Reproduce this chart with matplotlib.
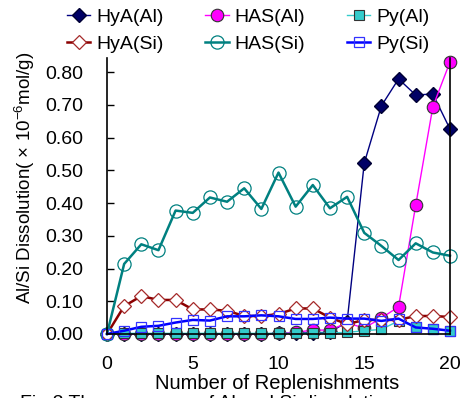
import numpy as np
import matplotlib
matplotlib.use("Agg")
import matplotlib.pyplot as plt

plt.rcParams['font.family'] = ['Liberation Sans', 'DejaVu Sans']
plt.rcParams['mathtext.fontset'] = 'custom'
plt.rcParams['mathtext.rm'] = 'Liberation Sans'
plt.rcParams['mathtext.it'] = 'Liberation Sans:italic'

# number of replenishments
x = np.arange(0, 21)

hya_al = [0.0, 0.0, 0.0, 0.0, 0.0, 0.0, 0.0, 0.0, 0.0, 0.0, 0.002,
          0.003, 0.004, 0.005, 0.037, 0.522, 0.697, 0.779, 0.730, 0.733, 0.626]
has_al = [0.0, 0.0, 0.0, 0.0, 0.0, 0.0, 0.0, 0.0, 0.0, 0.0, 0.002,
          0.005, 0.012, 0.012, 0.034, 0.018, 0.049, 0.083, 0.393, 0.694, 0.831]
py_al = [0.0, 0.002, 0.002, 0.002, 0.002, 0.002, 0.002, 0.002, 0.002, 0.002, 0.002,
         0.002, 0.002, 0.003, 0.005, 0.010, 0.014, 0.040, 0.022, 0.016, 0.010]
hya_si = [0.0, 0.085, 0.116, 0.104, 0.104, 0.075, 0.075, 0.071, 0.055, 0.055, 0.061,
          0.078, 0.078, 0.050, 0.030, 0.043, 0.043, 0.043, 0.055, 0.055, 0.052]
has_si = [0.0, 0.214, 0.274, 0.256, 0.377, 0.370, 0.417, 0.404, 0.445, 0.382, 0.493,
          0.389, 0.455, 0.384, 0.419, 0.309, 0.269, 0.226, 0.277, 0.249, 0.239]
py_si = [0.0, 0.010, 0.022, 0.025, 0.035, 0.043, 0.041, 0.054, 0.054, 0.057, 0.054,
         0.046, 0.046, 0.050, 0.047, 0.047, 0.040, 0.047, 0.020, 0.016, 0.010]

fig = plt.figure(figsize=(4.68, 3.98), dpi=100)
ax = fig.add_axes([107/468, 1 - 334/398, 343/468, 276/398])

h1, = ax.plot(x, hya_al, color='#000080', lw=1.0, marker='D', ms=7,
              mfc='#000066', mec='#000033', label='HyA(Al)', clip_on=False)
h2, = ax.plot(x, has_al, color='#FF00FF', lw=1.0, marker='o', ms=9,
              mfc='#FF00FF', mec='#333333', mew=0.8, label='HAS(Al)', clip_on=False)
h3, = ax.plot(x, py_al, color='#33CCCC', lw=1.0, marker='s', ms=7.5,
              mfc='#33CCCC', mec='#333333', mew=0.8, label='Py(Al)', clip_on=False)
h4, = ax.plot(x, hya_si, color='#8B0000', lw=1.8, marker='D', ms=7,
              mfc='white', mec='#A52A2A', mew=0.9, label='HyA(Si)', clip_on=False)
h5, = ax.plot(x, has_si, color='#008080', lw=1.8, marker='o', ms=9.5,
              mfc='none', mec='#008080', mew=0.9, label='HAS(Si)', clip_on=False)
h6, = ax.plot(x, py_si, color='#0000FF', lw=1.8, marker='s', ms=7,
              mfc='none', mec='#3333FF', mew=0.9, label='Py(Si)', clip_on=False)

ax.set_xlim(0, 20)
ax.set_ylim(0, 0.843)
ax.set_xticks([0, 5, 10, 15, 20])
ax.set_yticks(np.arange(0, 0.81, 0.1))
ax.set_yticklabels(['%.2f' % v for v in np.arange(0, 0.81, 0.1)])
ax.tick_params(axis='y', direction='in', length=5, width=1, labelsize=14, pad=17)
ax.tick_params(axis='x', length=0, labelsize=14, pad=16)
ax.spines['top'].set_visible(False)
for s in ['left', 'bottom', 'right']:
    ax.spines[s].set_linewidth(1.2)

ax.set_xlabel('Number of Replenishments', fontsize=14.5)
ax.xaxis.set_label_coords(0.496, -0.145)
ax.set_ylabel(r'Al/Si Dissolution( $\times$ 10$^{-6}$mol/g)', fontsize=13.5)
ax.yaxis.set_label_coords(-0.205, 0.567)

fig.legend([h1, h4, h2, h5, h3, h6],
           ['HyA(Al)', 'HyA(Si)', 'HAS(Al)', 'HAS(Si)', 'Py(Al)', 'Py(Si)'],
           ncol=3, loc='upper left', bbox_to_anchor=(67/468, 1 - 8/398),
           frameon=False, fontsize=14, handlelength=1.2, handletextpad=0.3,
           columnspacing=2.15, labelspacing=0.5, borderpad=0, borderaxespad=0)

# caption sits mostly below the bottom edge, as in the original crop
fig.text(20/468, 1 - 395/398, 'Fig.3 The sequence of Al and Si dissolution',
         fontsize=14, va='top', ha='left')

fig.savefig('out.png', dpi=100)
